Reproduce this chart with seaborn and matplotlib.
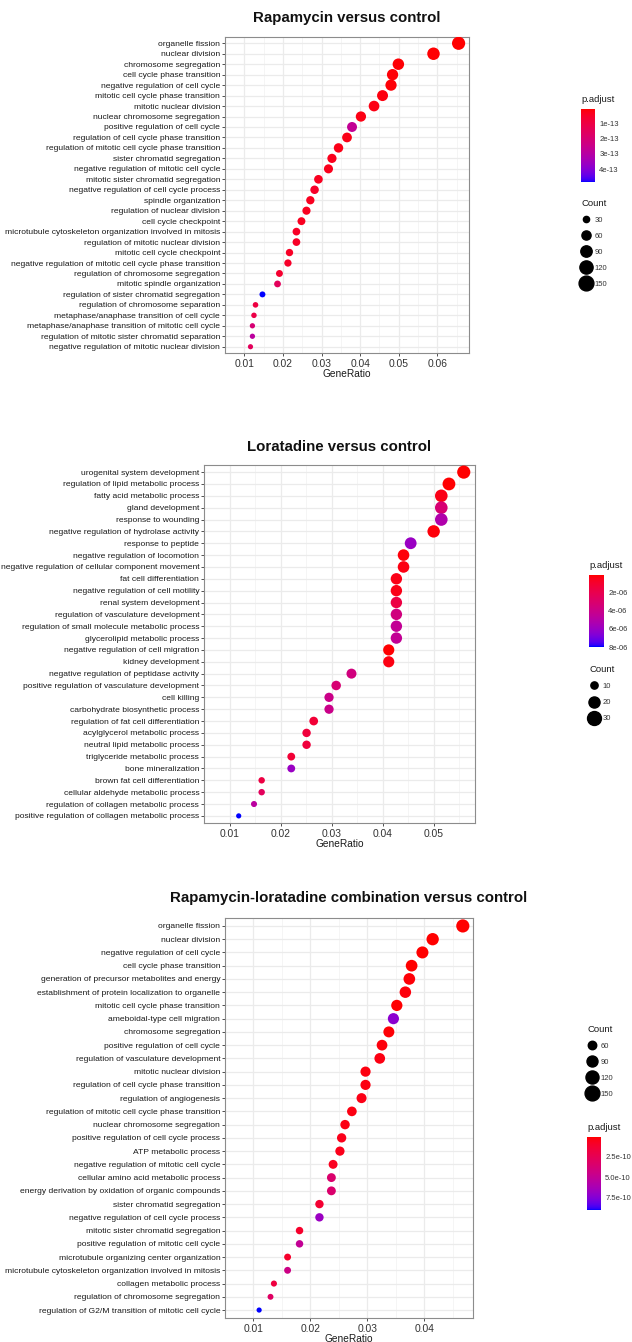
import numpy as np
import pandas as pd
import matplotlib
matplotlib.use("Agg")
import matplotlib.pyplot as plt
from matplotlib.colors import ListedColormap, Normalize
from matplotlib.cm import ScalarMappable
from matplotlib.lines import Line2D
import seaborn as sns

# ---------------------------------------------------------------- data
rapa_terms = [
    "organelle fission", "nuclear division", "chromosome segregation",
    "cell cycle phase transition", "negative regulation of cell cycle",
    "mitotic cell cycle phase transition", "mitotic nuclear division",
    "nuclear chromosome segregation", "positive regulation of cell cycle",
    "regulation of cell cycle phase transition",
    "regulation of mitotic cell cycle phase transition",
    "sister chromatid segregation", "negative regulation of mitotic cell cycle",
    "mitotic sister chromatid segregation",
    "negative regulation of cell cycle process", "spindle organization",
    "regulation of nuclear division", "cell cycle checkpoint",
    "microtubule cytoskeleton organization involved in mitosis",
    "regulation of mitotic nuclear division", "mitotic cell cycle checkpoint",
    "negative regulation of mitotic cell cycle phase transition",
    "regulation of chromosome segregation", "mitotic spindle organization",
    "regulation of sister chromatid segregation",
    "regulation of chromosome separation",
    "metaphase/anaphase transition of cell cycle",
    "metaphase/anaphase transition of mitotic cell cycle",
    "regulation of mitotic sister chromatid separation",
    "negative regulation of mitotic nuclear division",
]
rapa_ratio = [0.0655, 0.0590, 0.0499, 0.0484, 0.0480, 0.0458, 0.0436, 0.0402,
              0.0379, 0.0366, 0.0344, 0.0327, 0.0318, 0.0292, 0.0282, 0.0271,
              0.0261, 0.0248, 0.0235, 0.0235, 0.0217, 0.0213, 0.0191, 0.0186,
              0.0147, 0.0129, 0.0125, 0.0121, 0.0121, 0.0116]
rapa_count = [170, 153, 130, 126, 125, 119, 113, 105, 99, 95, 89, 85, 83, 76,
              73, 70, 68, 64, 61, 61, 56, 55, 50, 48, 38, 34, 33, 31, 31, 30]
rapa_padj = [8e-15, 1.0e-14, 1.2e-14, 1.5e-14, 1.5e-14, 2.0e-14, 2.5e-14,
             2.5e-14, 2.7e-13, 3.0e-14, 3.0e-14, 3.5e-14, 3.5e-14, 4.0e-14,
             5.5e-14, 4.0e-14, 4.0e-14, 4.0e-14, 5.0e-14, 5.0e-14, 5.0e-14,
             5.6e-14, 6.5e-14, 1.5e-13, 4.84e-13, 1.0e-13, 1.1e-13, 2.0e-13,
             2.9e-13, 1.5e-13]

lora_terms = [
    "urogenital system development", "regulation of lipid metabolic process",
    "fatty acid metabolic process", "gland development", "response to wounding",
    "negative regulation of hydrolase activity", "response to peptide",
    "negative regulation of locomotion",
    "negative regulation of cellular component movement",
    "fat cell differentiation", "negative regulation of cell motility",
    "renal system development", "regulation of vasculature development",
    "regulation of small molecule metabolic process",
    "glycerolipid metabolic process", "negative regulation of cell migration",
    "kidney development", "negative regulation of peptidase activity",
    "positive regulation of vasculature development", "cell killing",
    "carbohydrate biosynthetic process",
    "regulation of fat cell differentiation", "acylglycerol metabolic process",
    "neutral lipid metabolic process", "triglyceride metabolic process",
    "bone mineralization", "brown fat cell differentiation",
    "cellular aldehyde metabolic process",
    "regulation of collagen metabolic process",
    "positive regulation of collagen metabolic process",
]
lora_ratio = [0.0559, 0.0530, 0.0515, 0.0515, 0.0515, 0.0500, 0.0455, 0.0441,
              0.0441, 0.0427, 0.0427, 0.0427, 0.0427, 0.0427, 0.0427, 0.0412,
              0.0412, 0.0339, 0.0309, 0.0295, 0.0295, 0.0265, 0.0251, 0.0251,
              0.0221, 0.0221, 0.0163, 0.0163, 0.0148, 0.0118]
lora_count = [38, 36, 35, 35, 35, 34, 31, 30, 30, 29, 29, 29, 29, 29, 29, 28,
              28, 23, 21, 20, 20, 18, 17, 17, 15, 15, 11, 11, 10, 8]
lora_padj = [5e-08, 1e-07, 4e-07, 3.2e-06, 5.2e-06, 2e-07, 6.0e-06, 2e-07,
             3e-07, 4e-07, 4e-07, 1.6e-06, 3.6e-06, 4.4e-06, 4.4e-06, 1e-07,
             3e-07, 3.6e-06, 3.2e-06, 4.0e-06, 4.0e-06, 1.2e-06, 1.4e-06,
             1.4e-06, 1.2e-06, 6.0e-06, 1.6e-06, 2.4e-06, 4.8e-06, 7.95e-06]

combo_terms = [
    "organelle fission", "nuclear division", "negative regulation of cell cycle",
    "cell cycle phase transition",
    "generation of precursor metabolites and energy",
    "establishment of protein localization to organelle",
    "mitotic cell cycle phase transition", "ameboidal-type cell migration",
    "chromosome segregation", "positive regulation of cell cycle",
    "regulation of vasculature development", "mitotic nuclear division",
    "regulation of cell cycle phase transition", "regulation of angiogenesis",
    "regulation of mitotic cell cycle phase transition",
    "nuclear chromosome segregation",
    "positive regulation of cell cycle process", "ATP metabolic process",
    "negative regulation of mitotic cell cycle",
    "cellular amino acid metabolic process",
    "energy derivation by oxidation of organic compounds",
    "sister chromatid segregation", "negative regulation of cell cycle process",
    "mitotic sister chromatid segregation",
    "positive regulation of mitotic cell cycle",
    "microtubule organizing center organization",
    "microtubule cytoskeleton organization involved in mitosis",
    "collagen metabolic process", "regulation of chromosome segregation",
    "regulation of G2/M transition of mitotic cell cycle",
]
combo_ratio = [0.0468, 0.0415, 0.0397, 0.0378, 0.0374, 0.0367, 0.0352, 0.0346,
               0.0338, 0.0326, 0.0322, 0.0297, 0.0297, 0.0290, 0.0273, 0.0261,
               0.0255, 0.0252, 0.0240, 0.0237, 0.0237, 0.0216, 0.0216, 0.0181,
               0.0181, 0.0160, 0.0160, 0.0136, 0.0130, 0.0110]
combo_count = [168, 149, 143, 136, 135, 132, 127, 125, 122, 117, 116, 107, 107,
               104, 98, 94, 92, 91, 86, 85, 85, 78, 78, 65, 65, 58, 58, 49, 47, 40]
combo_padj = [1e-12, 2e-12, 3e-12, 4e-12, 1.5e-11, 2e-11, 6e-12, 7.3e-10,
              1e-11, 2e-11, 3e-11, 2.5e-11, 3e-11, 4e-11, 3e-11, 3.5e-11,
              5e-11, 5e-11, 6e-11, 3.4e-10, 3.4e-10, 1.2e-10, 6.8e-10,
              1.0e-10, 5.0e-10, 1.0e-10, 4.4e-10, 1.7e-10, 3.0e-10, 9.1e-10]

rapa_size_breaks = [30, 60, 90, 120, 150]
lora_size_breaks = [10, 20, 30]
combo_size_breaks = [60, 90, 120, 150]

rapa_cbar_ticks = [1e-13, 2e-13, 3e-13, 4e-13]
rapa_cbar_labels = ["1e-13", "2e-13", "3e-13", "4e-13"]
lora_cbar_ticks = [2e-06, 4e-06, 6e-06, 8e-06]
lora_cbar_labels = ["2e-06", "4e-06", "6e-06", "8e-06"]
combo_cbar_ticks = [2.5e-10, 5.0e-10, 7.5e-10]
combo_cbar_labels = ["2.5e-10", "5.0e-10", "7.5e-10"]

# ---------------------------------------------------------------- styling
W, H = 632, 1342
SANS = ["Liberation Sans", "DejaVu Sans"]
SIZES = (14.0, 90.0)      # marker area range (pt^2)
KEY_SCALE = 1.2           # legend keys are drawn a little larger

sns.set_theme(style="white")
plt.rcParams["font.family"] = SANS


def _srgb_to_lab(rgb):
    rgb = np.asarray(rgb, float)
    lin = np.where(rgb <= 0.04045, rgb / 12.92, ((rgb + 0.055) / 1.055) ** 2.4)
    m = np.array([[0.4124, 0.3576, 0.1805],
                  [0.2126, 0.7152, 0.0722],
                  [0.0193, 0.1192, 0.9505]])
    xyz = m @ lin / np.array([0.95047, 1.0, 1.08883])
    d = 6 / 29
    f = np.where(xyz > d ** 3, np.cbrt(xyz), xyz / (3 * d * d) + 4 / 29)
    return np.array([116 * f[1] - 16, 500 * (f[0] - f[1]), 200 * (f[1] - f[2])])


def _lab_to_srgb(lab):
    L, a, b = lab
    fy_ = (L + 16) / 116
    fx_ = fy_ + a / 500
    fz_ = fy_ - b / 200
    d = 6 / 29
    f = np.array([fx_, fy_, fz_])
    xyz = np.where(f > d, f ** 3, 3 * d * d * (f - 4 / 29))
    xyz = xyz * np.array([0.95047, 1.0, 1.08883])
    minv = np.array([[3.2406, -1.5372, -0.4986],
                     [-0.9689, 1.8758, 0.0415],
                     [0.0557, -0.2040, 1.0570]])
    lin = np.clip(minv @ xyz, 0, 1)
    rgb = np.where(lin <= 0.0031308, 12.92 * lin, 1.055 * lin ** (1 / 2.4) - 0.055)
    return np.clip(rgb, 0, 1)


def lab_gradient(low, high, n=256):
    lo, hi = _srgb_to_lab(low), _srgb_to_lab(high)
    return ListedColormap([_lab_to_srgb(lo + t * (hi - lo)) for t in np.linspace(0, 1, n)])


CMAP = lab_gradient((1, 0, 0), (0, 0, 1))


def fx(x):
    return x / W


def fy(y):
    return 1 - y / H


def area(v, lo, hi):
    return SIZES[0] + (v - lo) / (hi - lo) * (SIZES[1] - SIZES[0])


def draw_panel(fig, box, title, title_y, terms, ratio, count, padj, xticks,
               size_breaks, cbar_ticks, cbar_labels, count_pos, cbar_pos,
               key_spacing):
    l, t, r, b = box
    ax = fig.add_axes([fx(l), fy(b), (r - l) / W, (b - t) / H])
    df = pd.DataFrame({"Description": terms, "GeneRatio": ratio,
                       "Count": count, "p.adjust": padj})
    pmin, pmax = df["p.adjust"].min(), df["p.adjust"].max()
    cmin, cmax = df["Count"].min(), df["Count"].max()
    sns.scatterplot(data=df, x="GeneRatio", y="Description", hue="p.adjust",
                    size="Count", palette=CMAP, hue_norm=(pmin, pmax),
                    sizes=SIZES, size_norm=(cmin, cmax), linewidth=0,
                    legend=False, ax=ax, zorder=3)

    n = len(terms)
    ax.set_ylim(n - 1 + 0.6, -0.6)
    span = df["GeneRatio"].max() - df["GeneRatio"].min()
    ax.set_xlim(df["GeneRatio"].min() - 0.05 * span,
                df["GeneRatio"].max() + 0.05 * span)
    ax.set_xticks(xticks)
    ax.set_xticklabels([f"{v:.2f}" for v in xticks])
    ax.set_xticks([v + 0.005 for v in [xticks[0] - 0.01] + xticks], minor=True)

    ax.set_axisbelow(True)
    ax.grid(which="major", color="#EBEBEB", lw=0.9)
    ax.grid(which="minor", axis="x", color="#F2F2F2", lw=0.5)
    for s in ax.spines.values():
        s.set_visible(True)
        s.set_color("#8C8C8C")
        s.set_linewidth(0.8)
    ax.tick_params(axis="y", which="major", length=2.5, width=0.6,
                   color="#333333", pad=1, labelsize=6.1, labelcolor="#1A1A1A",
                   left=True)
    ax.tick_params(axis="x", which="major", length=2.5, width=0.6,
                   color="#333333", pad=1.5, labelsize=7.4, labelcolor="#333333",
                   bottom=True)
    ax.tick_params(axis="x", which="minor", length=0)

    ax.set_ylabel("")
    ax.set_xlabel("GeneRatio", fontsize=7.3, color="#1A1A1A")
    ax.xaxis.set_label_coords(0.5, -21 / (b - t))
    ax.xaxis.label.set_va("center")

    fig.text(fx((l + r) / 2), fy(title_y), title, ha="center", va="center",
             fontsize=10.8, fontweight="bold", color="#111111")

    # colour bar for p.adjust (smallest value on top)
    cx0, cy0, cx1, cy1 = cbar_pos
    fig.text(fx(cx0), fy(cy0 - 9), "p.adjust", ha="left", va="center",
             fontsize=6.8, color="#1A1A1A")
    cax = fig.add_axes([fx(cx0), fy(cy1), (cx1 - cx0) / W, (cy1 - cy0) / H])
    cb = fig.colorbar(ScalarMappable(norm=Normalize(pmin, pmax), cmap=CMAP),
                      cax=cax)
    cax.invert_yaxis()
    cb.set_ticks(cbar_ticks)
    cb.set_ticklabels(cbar_labels)
    cb.outline.set_visible(False)
    cax.tick_params(direction="in", length=2.5, width=0.6, color="white",
                    labelsize=5.5, labelcolor="#333333", pad=3,
                    left=True, right=True)

    # size legend for Count
    handles = [Line2D([], [], ls="none", marker="o", color="black",
                      markersize=KEY_SCALE * np.sqrt(area(v, cmin, cmax)))
               for v in size_breaks]
    px, py = count_pos
    leg = fig.legend(handles, [str(v) for v in size_breaks], title="Count",
                     loc="upper left", bbox_to_anchor=(fx(px), fy(py)),
                     frameon=False, fontsize=5.5, title_fontsize=6.8,
                     labelspacing=key_spacing, handlelength=1.3,
                     handletextpad=0.5, borderpad=0, borderaxespad=0,
                     alignment="left")
    for txt in leg.get_texts():
        txt.set_color("#333333")
    leg.get_title().set_color("#1A1A1A")
    return ax


fig = plt.figure(figsize=(W / 100, H / 100), dpi=100)
fig.patch.set_facecolor("white")

draw_panel(fig, (225, 37, 469, 353), "Rapamycin versus control", 18,
           rapa_terms, rapa_ratio, rapa_count, rapa_padj,
           [0.01, 0.02, 0.03, 0.04, 0.05, 0.06], rapa_size_breaks,
           rapa_cbar_ticks, rapa_cbar_labels,
           count_pos=(581, 199), cbar_pos=(581, 109, 595, 182),
           key_spacing=1.12)

draw_panel(fig, (204, 465, 475, 823), "Loratadine versus control", 447,
           lora_terms, lora_ratio, lora_count, lora_padj,
           [0.01, 0.02, 0.03, 0.04, 0.05], lora_size_breaks,
           lora_cbar_ticks, lora_cbar_labels,
           count_pos=(589, 665), cbar_pos=(589, 575, 604, 647),
           key_spacing=1.15)

draw_panel(fig, (225, 918, 473, 1318),
           "Rapamycin-loratadine combination versus control", 898,
           combo_terms, combo_ratio, combo_count, combo_padj,
           [0.01, 0.02, 0.03, 0.04], combo_size_breaks,
           combo_cbar_ticks, combo_cbar_labels,
           count_pos=(587, 1025), cbar_pos=(587, 1137, 601, 1210),
           key_spacing=1.12)

fig.savefig("out.png", dpi=100, facecolor="white")
